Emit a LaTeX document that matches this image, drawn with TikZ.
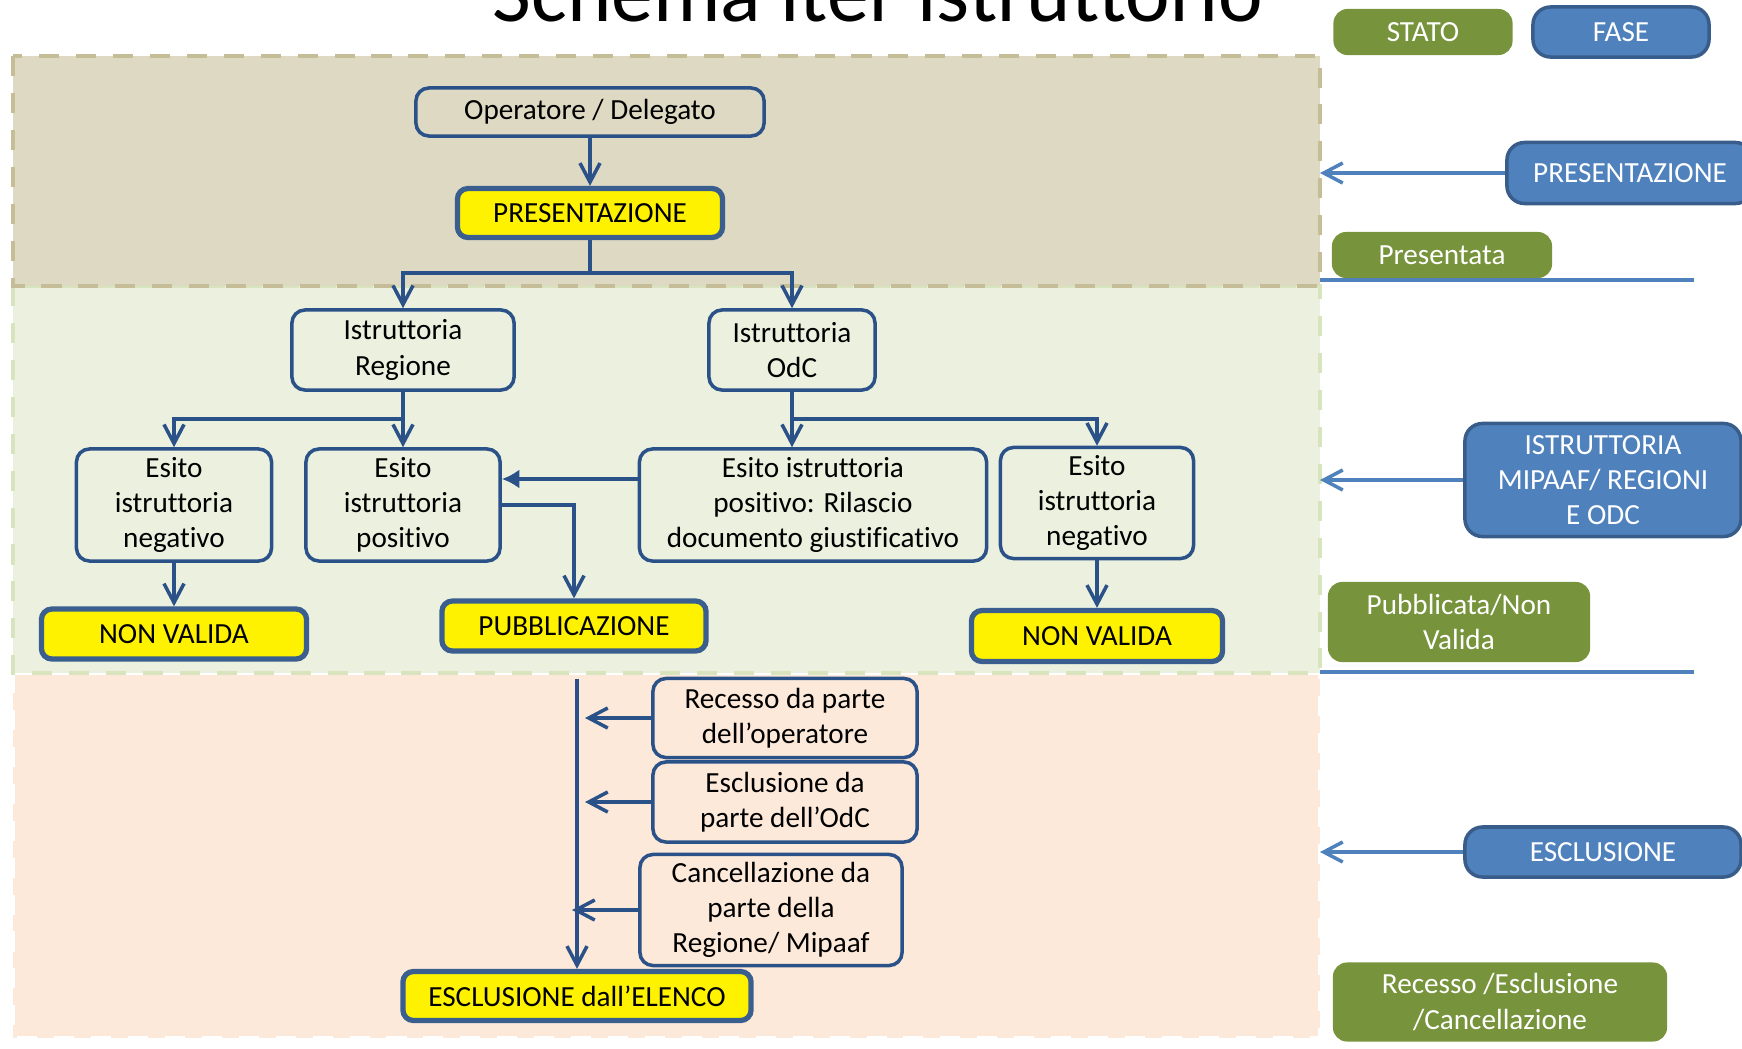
\documentclass[tikz,border=0pt]{standalone}
\usepackage{fontspec}
\setmainfont{Carlito}[Ligatures={NoCommon,NoContextual}, Contextuals=NoAlternate, RawFeature=-calt]
\usepackage{tikz}
\usetikzlibrary{arrows.meta}
\usepackage{xcolor}
\definecolor{bordoblu}{HTML}{2B5189}
\definecolor{bordogiallo}{HTML}{3A5F8E}
\definecolor{tanfascia}{HTML}{DDD9C3}
\definecolor{bordotan}{HTML}{C4BD97}
\definecolor{verdefascia}{HTML}{EBF1DE}
\definecolor{bordoverde}{HTML}{D7E4BD}
\definecolor{pescafascia}{HTML}{FDE9D9}
\definecolor{verdeleg}{HTML}{77933C}
\definecolor{bluleg}{HTML}{4F81BD}
\definecolor{bordoleg}{HTML}{385D8A}

\begin{document}
\begin{tikzpicture}[x=0.01cm, y=-0.01cm, >={Straight Barb[length=5.4pt,width=5.7pt]},
    every node/.style={font=\fontsize{8.3}{10}\selectfont},
    casella/.style={draw=bordoblu, line width=1pt, rounded corners=3.7pt, align=center, inner sep=0pt},
    stato/.style={draw=bordogiallo, line width=1.5pt, fill=yellow, rounded corners=3pt, inner sep=0pt},
    legverde/.style={fill=verdeleg, text=white, rounded corners=4pt, align=center, inner sep=0pt},
    legblu/.style={fill=bluleg, draw=bordoleg, line width=1pt, text=white, rounded corners=5pt, align=center, inner sep=0pt},
    freccia/.style={draw=bordoblu, line width=1pt},
    frecciafase/.style={draw=bluleg, line width=1pt},
    fascia/.style={line width=1.4pt, dash pattern=on 5.7pt off 4.8pt}] % unita' in pixel
    \clip (0,0) rectangle (1742,1048);

    % fasce
    \draw[fascia, draw=white, fill=pescafascia] (13,673) rectangle (1320,1038);
    \draw[fascia, draw=bordoverde, fill=verdefascia] (13,286) rectangle (1320,673);
    \draw[fascia, draw=bordotan, fill=tanfascia] (13,56) rectangle (1320,286);

    % titolo
    \node[anchor=base, font=\fontsize{24}{28}\selectfont] (titolo) at (878,21) {Schema iter istruttorio};

    % presentazione
    \node[casella, minimum width=3.48cm, minimum height=0.48cm] (oper) at (590,112) {Operatore / Delegato};
    \node[stato, minimum width=2.65cm, minimum height=0.49cm] (pres) at (590,213) {PRESENTAZIONE};
    \draw[freccia,->] (oper) -- (pres);

    % istruttoria
    \node[casella, minimum width=2.22cm, minimum height=0.80cm] (istreg) at (403,350) {Istruttoria\\Regione};
    \node[casella, minimum width=1.66cm, minimum height=0.80cm] (istodc) at (792,350) {Istruttoria\\OdC};
    \coordinate (bivio1) at (590,273);
    \draw[freccia] (pres) -- (bivio1);
    \draw[freccia,->] (bivio1) -| (istreg);
    \draw[freccia,->] (bivio1) -| (istodc);

    % esiti
    \node[casella, minimum width=1.95cm, minimum height=1.12cm] (esneg) at (174,505) {Esito\\istruttoria\\negativo};
    \node[casella, minimum width=1.94cm, minimum height=1.12cm] (espos) at (403,505) {Esito\\istruttoria\\positivo};
    \node[casella, minimum width=3.47cm, minimum height=1.12cm] (esril) at (813,505) {Esito istruttoria\\positivo: Rilascio\\documento giustificativo};
    \node[casella, minimum width=1.93cm, minimum height=1.11cm] (esnegodc) at (1097,503) {Esito\\istruttoria\\negativo};
    \coordinate (bivio2) at (403,419);
    \draw[freccia,->] (istreg) -- (espos);
    \draw[freccia,->] (bivio2) -| (esneg);
    \coordinate (bivio3) at (792,419);
    \draw[freccia,->] (istodc) -- (istodc |- esril.north);
    \draw[freccia,->] (bivio3) -| (esnegodc);
    \draw[freccia,-{Latex[length=5pt,width=5.5pt]}] ([yshift=0.26cm]esril.west) -- ([yshift=0.26cm]espos.east);

    % stati finali
    \node[stato, minimum width=2.65cm, minimum height=0.50cm] (nonval) at (174,634) {NON VALIDA};
    \node[stato, minimum width=2.64cm, minimum height=0.50cm] (pubbl) at (574,626) {PUBBLICAZIONE};
    \node[stato, minimum width=2.51cm, minimum height=0.51cm] (nonvalodc) at (1097,636) {NON VALIDA};
    \draw[freccia,->] (esneg) -- (nonval);
    \draw[freccia,->] (espos.east) -| (pubbl);
    \draw[freccia,->] (esnegodc) -- (nonvalodc);

    % esclusione
    \node[casella, minimum width=2.64cm, minimum height=0.79cm] (recesso) at (785,718) {Recesso da parte\\dell’operatore};
    \node[casella, minimum width=2.64cm, minimum height=0.80cm] (esclodc) at (785,802) {Esclusione da\\parte dell’OdC};
    \node[casella, minimum width=2.62cm, minimum height=1.11cm] (cancel) at (771,910) {Cancellazione da\\parte della\\Regione/ Mipaaf};
    \node[stato, minimum width=3.48cm, minimum height=0.49cm] (elenco) at (577,996) {ESCLUSIONE dall’ELENCO};
    \coordinate (linea) at (577,679);
    \draw[freccia,->] (linea) -- (elenco);
    \draw[freccia,->] (recesso.west) -- ([xshift=0.08cm]recesso.west -| linea);
    \draw[freccia,->] (esclodc.west) -- ([xshift=0.08cm]esclodc.west -| linea);
    \draw[freccia,->] (cancel.west) -- ([xshift=-0.05cm]cancel.west -| linea);

    % legenda
    \node[legverde, minimum width=1.79cm, minimum height=0.46cm] (statoleg) at (1423,32) {STATO};
    \node[legblu, minimum width=1.76cm, minimum height=0.50cm] (faseleg) at (1621,32) {FASE};
    \node[legblu, minimum width=2.46cm, minimum height=0.61cm] (fasepres) at (1630,173) {PRESENTAZIONE};
    \node[legverde, minimum width=2.20cm, minimum height=0.46cm] (presentata) at (1442,255) {Presentata};
    \node[legblu, minimum width=2.76cm, minimum height=1.13cm] (faseistr) at (1603,480) {ISTRUTTORIA\\MIPAAF/ REGIONI\\E ODC};
    \node[legverde, minimum width=2.62cm, minimum height=0.80cm] (pubblicata) at (1459,622) {Pubblicata/Non\\Valida};
    \node[legblu, minimum width=2.76cm, minimum height=0.50cm] (faseescl) at (1603,852) {ESCLUSIONE};
    \node[legverde, minimum width=3.34cm, minimum height=0.79cm] (recleg) at (1500,1002) {Recesso /Esclusione\\/Cancellazione};
    \coordinate (bordo) at (1320,0);
    \draw[frecciafase,->] (fasepres.west) -- (fasepres.west -| bordo);
    \draw[frecciafase,->] (faseistr.west) -- (faseistr.west -| bordo);
    \draw[frecciafase,->] (faseescl.west) -- (faseescl.west -| bordo);
    \draw[line width=1.4pt, bluleg] (1320,280) -- (1694,280);
    \draw[line width=1.4pt, bluleg] (1320,672) -- (1694,672);
\end{tikzpicture}
\end{document}
